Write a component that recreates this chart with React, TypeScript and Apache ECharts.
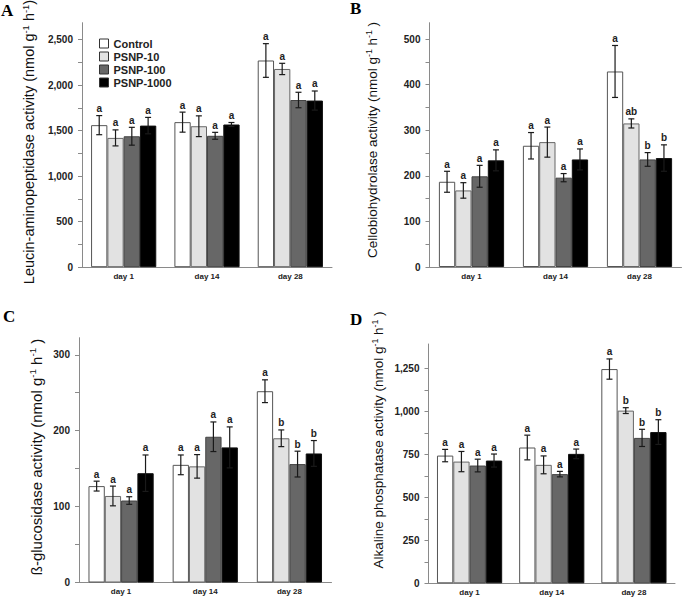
import React, { useEffect, useRef } from 'react';
import * as echarts from 'echarts';

const days = ['day 1', 'day 14', 'day 28'];
const treatments = ['Control', 'PSNP-10', 'PSNP-100', 'PSNP-1000'];

// Panel A: Leucin-aminopeptidase activity (rows = treatments, columns = days)
const lapMeans = [
  [1560, 1593, 2270],
  [1420, 1548, 2177],
  [1438, 1443, 1836],
  [1555, 1567, 1830],
];
const lapErrors = [
  [105, 110, 185],
  [88, 114, 62],
  [98, 38, 85],
  [90, 22, 105],
];
const lapLetters = [
  ['a', 'a', 'a'],
  ['a', 'a', 'a'],
  ['a', 'a', 'a'],
  ['a', 'a', 'a'],
];
const lapTicks = [0, 500, 1000, 1500, 2000, 2500];

// Panel B: Cellobiohydrolase activity
const cbhMeans = [
  [187, 266, 429],
  [168, 274, 315],
  [199, 196, 236],
  [234, 236, 239],
];
const cbhErrors = [
  [23, 29, 57],
  [17, 33, 10],
  [24, 9, 15],
  [23, 23, 29],
];
const cbhLetters = [
  ['a', 'a', 'a'],
  ['a', 'a', 'ab'],
  ['a', 'a', 'b'],
  ['a', 'a', 'b'],
];
const cbhTicks = [0, 100, 200, 300, 400, 500];

// Panel C: ß-glucosidase activity
const bgMeans = [
  [127, 155, 252],
  [114, 153, 190],
  [108, 192, 156],
  [144, 178, 170],
];
const bgErrors = [
  [6.5, 13, 15],
  [13, 15.5, 11],
  [5, 19.5, 17],
  [24, 27, 17],
];
const bgLetters = [
  ['a', 'a', 'a'],
  ['a', 'a', 'b'],
  ['a', 'a', 'b'],
  ['a', 'a', 'b'],
];
const bgTicks = [0, 100, 200, 300];

// Panel D: Alkaline phosphatase activity
const apMeans = [
  [744, 791, 1248],
  [709, 690, 1006],
  [686, 636, 847],
  [715, 754, 881],
];
const apErrors = [
  [36, 72, 59],
  [59, 52, 17],
  [37, 16, 50],
  [38, 28, 72],
];
const apLetters = [
  ['a', 'a', 'a'],
  ['a', 'a', 'b'],
  ['a', 'a', 'b'],
  ['a', 'a', 'b'],
];
const apTicks = [0, 250, 500, 750, 1000, 1250];

const barFills = ['#ffffff', '#e2e2e2', '#676767', '#000000'];
const barBorders = ['#555555', '#666666', '#444444', '#111111'];

const FONT = 'Liberation Sans, Arial, sans-serif';
const SERIF = 'Liberation Serif, Times New Roman, serif';
const BAR_W = 16.3;

type Panel = {
  means: number[][];
  errors: number[][];
  letters: string[][];
  ticks: number[];
  max: number;
  grid: { left: number; top: number; width: number; height: number };
  title: string;
  closeSpace: boolean;
  titleSize: number;
  titlePos: [number, number];
  letter: string;
  letterPos: [number, number];
};

const panels: Panel[] = [
  {
    means: lapMeans, errors: lapErrors, letters: lapLetters, ticks: lapTicks, max: 2685,
    grid: { left: 82, top: 22.7, width: 250, height: 244.5 },
    title: 'Leucin-aminopeptidase activity', closeSpace: false, titleSize: 14.5,
    titlePos: [29, 142], letter: 'A', letterPos: [1, 10.5],
  },
  {
    means: cbhMeans, errors: cbhErrors, letters: cbhLetters, ticks: cbhTicks, max: 536,
    grid: { left: 429.5, top: 22.7, width: 252, height: 244.3 },
    title: 'Cellobiohydrolase activity', closeSpace: true, titleSize: 13.5,
    titlePos: [372, 140], letter: 'B', letterPos: [350, 8.7],
  },
  {
    means: bgMeans, errors: bgErrors, letters: bgLetters, ticks: bgTicks, max: 322.5,
    grid: { left: 79, top: 337.7, width: 252.5, height: 244.8 },
    title: '\u00DF-glucosidase activity', closeSpace: true, titleSize: 15,
    titlePos: [36, 457], letter: 'C', letterPos: [3, 316],
  },
  {
    means: apMeans, errors: apErrors, letters: apLetters, ticks: apTicks, max: 1394,
    grid: { left: 428.5, top: 344, width: 246.5, height: 239.3 },
    title: 'Alkaline phosphatase activity', closeSpace: true, titleSize: 13.5,
    titlePos: [378, 440], letter: 'D', letterPos: [350, 319.5],
  },
];

function halfTicks(ticks: number[]): number[] {
  const out: number[] = [];
  for (let i = 0; i < ticks.length; i++) {
    out.push(ticks[i]);
    if (i < ticks.length - 1) out.push((ticks[i] + ticks[i + 1]) / 2);
  }
  return out;
}

function buildOption() {
  const grid: any[] = [];
  const xAxis: any[] = [];
  const yAxis: any[] = [];
  const series: any[] = [];
  const graphic: any[] = [];

  panels.forEach((p, pi) => {
    grid.push({ ...p.grid, containLabel: false });
    xAxis.push({
      type: 'category',
      gridIndex: pi,
      data: days,
      axisLine: { lineStyle: { color: '#8a8a8a', width: 1 } },
      axisTick: { alignWithLabel: true, length: 3, lineStyle: { color: '#8a8a8a' } },
      axisLabel: { fontSize: 8, fontWeight: 'bold', color: '#222', margin: 5, fontFamily: FONT },
    });
    yAxis.push({
      type: 'value',
      gridIndex: pi,
      min: 0,
      max: p.max,
      splitLine: { show: false },
      axisLine: { show: true, lineStyle: { color: '#8a8a8a', width: 1 } },
      axisTick: { show: true, length: 4, customValues: halfTicks(p.ticks), lineStyle: { color: '#8a8a8a' } },
      axisLabel: {
        customValues: p.ticks,
        fontSize: 10,
        fontWeight: 'bold',
        color: '#222',
        margin: 9,
        fontFamily: FONT,
        formatter: (v: number) => v.toLocaleString('en-US'),
      },
    });

    treatments.forEach((name, t) => {
      series.push({
        type: 'bar',
        name,
        xAxisIndex: pi,
        yAxisIndex: pi,
        barWidth: BAR_W,
        barGap: '0%',
        data: p.means[t],
        itemStyle: { color: barFills[t], borderColor: barBorders[t], borderWidth: 1 },
        emphasis: { disabled: true },
      });
      const letters = p.letters[t];
      series.push({
        type: 'custom',
        name: name + '-err',
        xAxisIndex: pi,
        yAxisIndex: pi,
        z: 5,
        encode: { x: 0, y: 1 },
        data: p.means[t].map((m, i) => [i, m, p.errors[t][i]]),
        renderItem: (params: any, api: any) => {
          const ci = api.value(0);
          const m = api.value(1);
          const e = api.value(2);
          const c = api.coord([ci, m]);
          const top = api.coord([ci, m + e]);
          const bot = api.coord([ci, m - e]);
          const x = c[0] + (t - 1.5) * BAR_W;
          const cap = 3;
          const ls = { stroke: '#1a1a1a', lineWidth: 1.2 };
          return {
            type: 'group',
            children: [
              { type: 'line', shape: { x1: x, y1: top[1], x2: x, y2: bot[1] }, style: ls },
              { type: 'line', shape: { x1: x - cap, y1: top[1], x2: x + cap, y2: top[1] }, style: ls },
              { type: 'line', shape: { x1: x - cap, y1: bot[1], x2: x + cap, y2: bot[1] }, style: ls },
              {
                type: 'text',
                x,
                y: top[1] - 7,
                style: {
                  text: letters[params.dataIndex],
                  fill: '#222',
                  fontSize: 10,
                  fontWeight: 'bold',
                  fontFamily: FONT,
                  align: 'center',
                  verticalAlign: 'middle',
                },
              },
            ],
          };
        },
      });
    });

    const f = p.titleSize;
    const text =
      `{n|${p.title} (nmol g}{s|-1}{n| h}{s|-1}{n|${p.closeSpace ? ' ' : ''})}`;
    graphic.push({
      type: 'text',
      x: p.titlePos[0],
      y: p.titlePos[1],
      rotation: Math.PI / 2,
      style: {
        text,
        align: 'center',
        verticalAlign: 'middle',
        rich: {
          n: { fontSize: f, fontFamily: FONT, fill: '#111', lineHeight: f * 1.15 },
          s: { fontSize: f * 0.65, fontFamily: FONT, fill: '#111', lineHeight: f * 0.75, verticalAlign: 'top' },
        },
      },
    });
    graphic.push({
      type: 'text',
      x: p.letterPos[0],
      y: p.letterPos[1],
      style: {
        text: p.letter,
        fontSize: 17,
        fontWeight: 'bold',
        fontFamily: SERIF,
        fill: '#000',
        align: 'left',
        verticalAlign: 'middle',
      },
    });
  });

  return {
    animation: false,
    backgroundColor: '#ffffff',
    textStyle: { fontFamily: FONT },
    legend: {
      data: treatments,
      orient: 'vertical',
      left: 99,
      top: 38,
      padding: 0,
      itemGap: 2,
      itemWidth: 9,
      itemHeight: 9,
      icon: 'rect',
      selectedMode: false,
      itemStyle: { borderColor: '#333', borderWidth: 1 },
      textStyle: { fontSize: 11, fontWeight: 'bold', color: '#222', fontFamily: FONT, lineHeight: 11 },
    },
    grid,
    xAxis,
    yAxis,
    series,
    graphic,
  };
}

export default function App() {
  const ref = useRef<HTMLDivElement>(null);
  useEffect(() => {
    if (!ref.current) return;
    const chart = echarts.init(ref.current, undefined, { renderer: 'svg' });
    chart.setOption(buildOption() as any);
    return () => chart.dispose();
  }, []);
  return (
    <div
      ref={ref}
      style={{ position: 'fixed', left: 0, top: 0, width: 685, height: 599, background: '#fff' }}
    />
  );
}
